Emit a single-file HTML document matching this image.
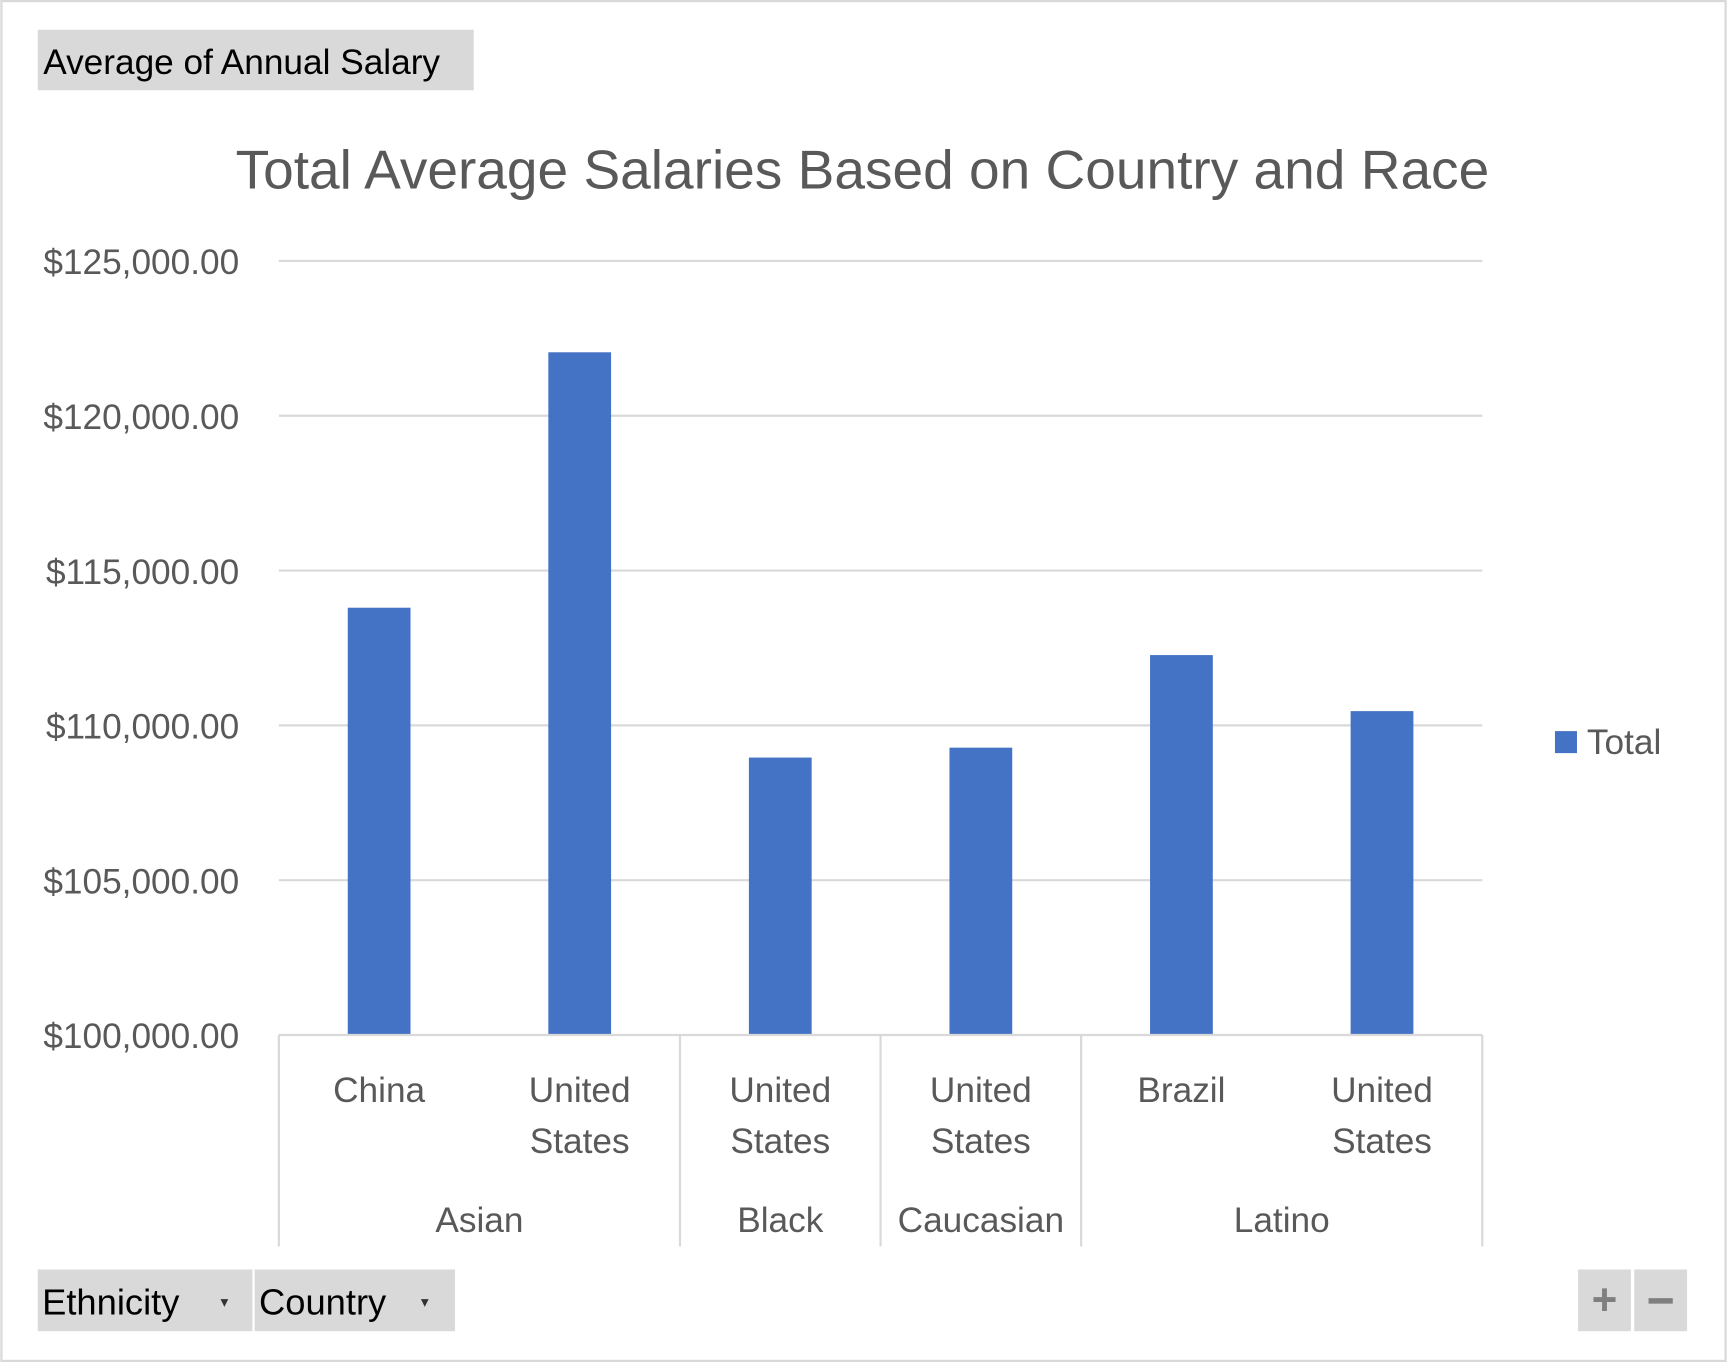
<!DOCTYPE html>
<html><head><meta charset="utf-8"><style>
html,body{margin:0;padding:0;background:#fff}
svg{display:block;font-family:"Liberation Sans",sans-serif}
</style></head><body>
<svg id="chart" width="1727" height="1362" viewBox="0 0 1568 1237" xmlns="http://www.w3.org/2000/svg">
<rect x="1" y="1" width="1566" height="1235" fill="#fff" stroke="#d9d9d9" stroke-width="2"/>
<g>
<rect x="34" y="27" width="396" height="55" fill="#d9d9d9"/>
<text x="39" y="67" font-size="32" fill="#000">Average  of  Annual  Salary</text>
</g>
<text x="783" y="171" font-size="50" fill="#595959" text-anchor="middle">Total Average Salaries Based on Country and Race</text>
<g id="grid"></g>
<g id="bars"></g>
<g id="axis"></g>
<g>
<rect x="1412" y="664" width="20" height="20" fill="#4472c4"/>
<text x="1441" y="685" font-size="32" fill="#595959">Total</text>
</g>
<g>
<rect x="34" y="1153" width="195" height="56" fill="#d9d9d9"/>
<text x="38" y="1194" font-size="33" fill="#000">Ethnicity</text>
<text x="200" y="1187" font-size="14" fill="#333">▾</text>
</g>
<g>
<rect x="231" y="1153" width="182" height="56" fill="#d9d9d9"/>
<text x="235" y="1194" font-size="33" fill="#000">Country</text>
<text x="382" y="1187" font-size="14" fill="#333">▾</text>
</g>
<g>
<rect x="1433" y="1153" width="48" height="56" fill="#d9d9d9"/>
<text x="1457" y="1194" font-size="40" fill="#7f7f7f" text-anchor="middle" font-weight="bold">+</text>
</g>
<g>
<rect x="1484" y="1153" width="48" height="56" fill="#d9d9d9"/>
<rect x="1497" y="1179" width="22" height="5" fill="#7f7f7f"/>
</g>
</svg>
<script>
const countries = ["China","United States","United States","United States","Brazil","United States"];
const ethnicities = ["Asian","Black","Caucasian","Latino"];
const groupSizes = [2,1,1,2];
const values = [113800,122050,108960,109280,112270,110460];
const ticks = [100000,105000,110000,115000,120000,125000];
const tickLabels = ["$100,000.00","$105,000.00","$110,000.00","$115,000.00","$120,000.00","$125,000.00"];

const NS="http://www.w3.org/2000/svg";
const x0=253,x1=1346,yB=940,yT=237,vMin=100000,vMax=125000;
const y=v=>yB-(v-vMin)/(vMax-vMin)*(yB-yT);
const bw=(x1-x0)/countries.length;
const xc=i=>x0+bw*(i+0.5);
function mk(tag,attrs,parent,txt){const e=document.createElementNS(NS,tag);for(const k in attrs)e.setAttribute(k,attrs[k]);if(txt!==undefined)e.textContent=txt;parent.appendChild(e);return e;}
const grid=document.getElementById('grid'),bars=document.getElementById('bars'),axis=document.getElementById('axis');
ticks.forEach((t,i)=>{
  if(i>0){const l=mk('line',{x1:x0,x2:x1,y1:y(t),y2:y(t),stroke:'#d9d9d9','stroke-width':2},grid);
  
  }
  const tx=mk('text',{x:217,y:y(t)+12,'font-size':32,fill:'#595959','text-anchor':'end'},grid,tickLabels[i]);
  
  
});
values.forEach((v,i)=>{
  const r=mk('rect',{x:xc(i)-28.5,y:y(v),width:57,height:yB-y(v),fill:'#4472c4'},bars);
  
  
  const words=countries[i].split(' ');
  words.forEach((w,j)=>{
    const t=mk('text',{x:xc(i),y:1001+j*46,'font-size':32,fill:'#595959','text-anchor':'middle'},axis,w);
    
    
  });
});
const base=mk('line',{x1:x0,x2:x1,y1:yB,y2:yB,stroke:'#d9d9d9','stroke-width':2},axis);


let idx=0;
const sep=xx=>{const l=mk('line',{x1:xx,x2:xx,y1:yB,y2:1132,stroke:'#d9d9d9','stroke-width':2},axis);
  
  };
sep(x0);
ethnicities.forEach((e,g)=>{
  const a=x0+idx*bw; idx+=groupSizes[g]; const b=x0+idx*bw;
  sep(b);
  const t=mk('text',{x:(a+b)/2,y:1119,'font-size':32,fill:'#595959','text-anchor':'middle'},axis,e);
  
  
});
</script>
</body></html>
